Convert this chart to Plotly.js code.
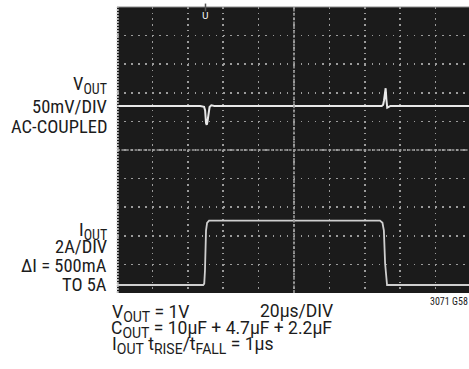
<!DOCTYPE html>
<html>
<head>
<meta charset="utf-8">
<script src="https://cdn.plot.ly/plotly-3.0.1.min.js"></script>
<style>
html,body{margin:0;padding:0;background:#fff;}
#chart{width:469px;height:369px;}
</style>
</head>
<body>
<div id="chart"></div>
<script>
// Time axis: 20 µs per division
const voutTime = [0, 47, 49.2, 49.8, 50.3, 50.7, 51.1, 51.6, 52.3, 53.3, 55, 149.6, 150.4, 150.9, 151.4, 151.8, 152.2, 152.7, 153.3, 154.5, 199];
// VOUT deviation, mV (AC-coupled, 50mV/div)
const voutMv = [0, 0, -1.5, -8, -30, -33, -28, -12, -2, 1, 0, 0, 2, 10, 30, 31, 12, -3, -2, 0, 0];

const ioutTime = [0, 48.7, 49.3, 49.7, 50.3, 50.9, 52, 148.6, 150, 150.8, 151.5, 152.2, 152.6, 199];
// IOUT, A (2A/div), 0.5A to 5A step
const ioutAmp = [0.5, 0.5, 0.6, 1.5, 4.3, 4.85, 5, 5, 4.85, 4.3, 2, 0.6, 0.5, 0.5];

const triggerTime = [50];

const FONT = "'Roboto Condensed', 'Liberation Sans Narrow', 'Arial Narrow', 'Liberation Sans', sans-serif";
const FONT_BOTTOM = "Roboto, 'Liberation Sans', sans-serif";

function sub(t){ return '<sub><span style="font-size:14px">' + t + '</span></sub>'; }

const traces = [
  {x: ioutTime, y: ioutAmp, yaxis: 'y2', mode: 'lines', line: {color: '#cfcfcf', width: 1.8}, hoverinfo: 'skip', showlegend: false},
  {x: voutTime, y: voutMv, yaxis: 'y', mode: 'lines', line: {color: '#e8e8e8', width: 2}, hoverinfo: 'skip', showlegend: false}
];

function pyToPaper(py){ return (293 - py) / 286; }
function pxToPaper(px){ return (px - 117) / 352; }

function lab(text, px, py, xanchor, size, fam){
  return {text: text, xref: 'paper', yref: 'paper', x: pxToPaper(px), y: pyToPaper(py),
    xanchor: xanchor, yanchor: 'middle', showarrow: false, borderpad: 0,
    font: {family: fam || FONT, size: size || 18.5, color: '#1c1c1c'}};
}

const annotations = [
  lab('V' + sub('OUT'), 108, 85, 'right'),
  lab('50mV/DIV', 108, 106.5, 'right'),
  lab('AC-COUPLED', 108, 126.5, 'right'),
  lab('I' + sub('OUT'), 108, 231, 'right'),
  lab('2A/DIV', 108, 246.5, 'right'),
  lab('ΔI = 500mA', 108, 265.5, 'right'),
  lab('TO 5A', 108, 284.5, 'right'),
  lab('V' + sub('OUT') + ' = 1V', 111, 313, 'left', 17.5, FONT_BOTTOM),
  lab('20µs/DIV', 259, 311.5, 'left', 17.5, FONT_BOTTOM),
  lab('C' + sub('OUT') + ' = 10µF + 4.7µF + 2.2µF', 110, 329, 'left', 17.5, FONT_BOTTOM),
  lab('I' + sub('OUT') + ' t' + sub('RISE') + '/t' + sub('FALL') + ' = 1µs', 111, 345, 'left', 17.5, FONT_BOTTOM),
  lab('3071 G58', 469, 301.5, 'right', 10),
  {text: 'U', xref: 'x', yref: 'paper', x: triggerTime[0], y: 1, xanchor: 'center', yanchor: 'top',
   yshift: -2, showarrow: false, font: {family: 'DejaVu Sans', size: 9, color: '#ffffff'}}
];

const shapes = [
  // centre cross
  {type: 'line', xref: 'paper', yref: 'paper', x0: 0, x1: 1, y0: 0.5, y1: 0.5, line: {color: '#9a9a9a', width: 1.6, dash: '3px,1.4px'}},
  {type: 'line', xref: 'paper', yref: 'paper', x0: 0.5028, x1: 0.5028, y0: 0, y1: 1, line: {color: '#9a9a9a', width: 1.6, dash: '3px,1.4px'}},
  // left edge and top edge
  {type: 'line', xref: 'paper', yref: 'paper', x0: 0.002, x1: 0.002, y0: 0, y1: 1, line: {color: '#bdbdbd', width: 2, dash: '2px,1px'}},
  {type: 'line', xref: 'paper', yref: 'paper', x0: 0, x1: 1, y0: 1, y1: 1, line: {color: '#8a8a8a', width: 1}},
  // trigger stub
  {type: 'line', xref: 'x', yref: 'paper', x0: triggerTime[0], x1: triggerTime[0], y0: 1.012, y1: 0.985, line: {color: '#555555', width: 1.5}}
];

const layout = {
  width: 469, height: 369,
  margin: {l: 117, r: 0, t: 7, b: 76, pad: 0},
  paper_bgcolor: '#ffffff',
  plot_bgcolor: '#1b1b1b',
  showlegend: false,
  xaxis: {range: [0, 198.9], dtick: 20, tick0: 0, showgrid: true, gridcolor: '#9c9c9c', gridwidth: 1.5,
          griddash: '1.5px,4.22px', zeroline: false, showline: false, showticklabels: false, ticks: '', fixedrange: true},
  yaxis: {range: [-327, 173], dtick: 50, tick0: -327, showgrid: true, gridcolor: '#9c9c9c', gridwidth: 1.5,
          griddash: '1.5px,5.57px', zeroline: false, showline: false, showticklabels: false, ticks: '', fixedrange: true},
  yaxis2: {range: [-0.06, 19.94], overlaying: 'y', showgrid: false, zeroline: false, showline: false,
           showticklabels: false, ticks: '', fixedrange: true},
  annotations: annotations,
  shapes: shapes
};

Plotly.newPlot('chart', traces, layout, {displayModeBar: false, staticPlot: true});
</script>
</body>
</html>
